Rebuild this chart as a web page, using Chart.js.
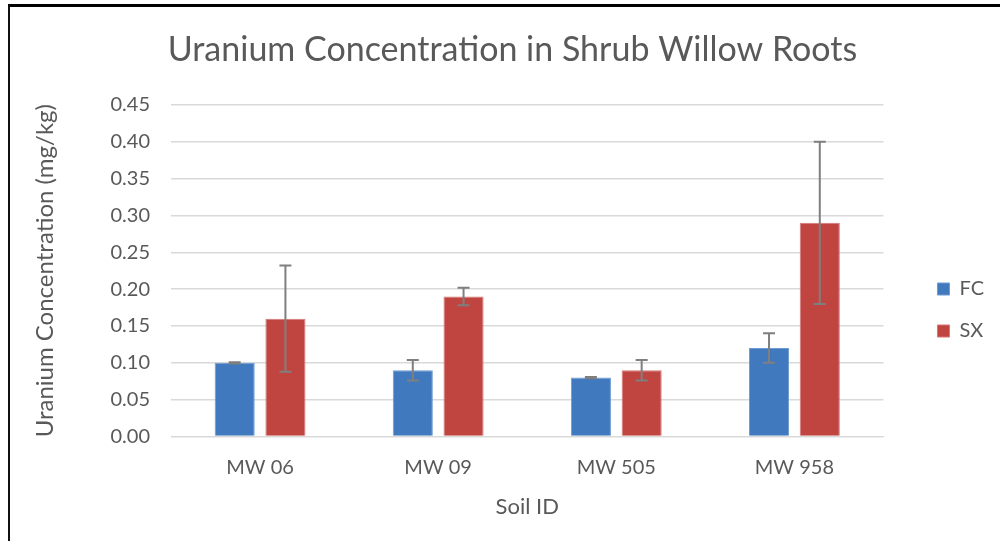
<!DOCTYPE html>
<html>
<head>
<meta charset="utf-8">
<script src="https://cdn.jsdelivr.net/npm/chart.js@4.4.1/dist/chart.umd.min.js"></script>
<style>
  html, body { margin: 0; padding: 0; background: #fff; }
  #wrap { position: relative; width: 1000px; height: 541px; }
  #frame {
    position: absolute; left: 8px; top: 4px; right: 0; bottom: 0;
    border-top: 3px solid #000; border-left: 2px solid #111;
    pointer-events: none;
  }
</style>
</head>
<body>
<div id="wrap">
  <canvas id="myChart" width="1000" height="541"></canvas>
  <div id="frame"></div>
</div>
<script>
// Soil IDs
const soils = ["MW 06", "MW 09", "MW 505", "MW 958"];

// Means (mg/kg)
const fcValues = [0.10, 0.09, 0.08, 0.12];
const sxValues = [0.16, 0.19, 0.09, 0.29];

// Error bar half-lengths
const fcErrors = [0.001, 0.014, 0.001, 0.02];
const sxErrors = [0.072, 0.012, 0.014, 0.11];

const yTicks = [0, 0.05, 0.10, 0.15, 0.20, 0.25, 0.30, 0.35, 0.40, 0.45];

const FONT = "Lato, 'Open Sans', sans-serif";
const GREY = "#595959";

// Error bars drawn from each bar's value
const errorBars = {
    id: "errorBars",
    afterDatasetsDraw(chart) {
        const ctx = chart.ctx;
        const y = chart.scales.y;
        ctx.save();
        ctx.strokeStyle = "#7f7f7f";
        ctx.lineWidth = 2;
        chart.data.datasets.forEach((ds, di) => {
            const meta = chart.getDatasetMeta(di);
            meta.data.forEach((bar, i) => {
                const v = ds.data[i];
                const e = ds.errors[i];
                const top = y.getPixelForValue(v + e);
                const bot = y.getPixelForValue(v - e);
                const x = bar.x;
                ctx.beginPath();
                ctx.moveTo(x, top); ctx.lineTo(x, bot);
                ctx.moveTo(x - 6, top); ctx.lineTo(x + 6, top);
                ctx.moveTo(x - 6, bot); ctx.lineTo(x + 6, bot);
                ctx.stroke();
            });
        });
        ctx.restore();
    }
};

// Nudge legend and title to where Excel puts them
const nudge = {
    id: "nudge",
    afterLayout(chart) {
        chart.legend.left += 32;
        chart.legend.right += 32;
        chart.legend.top += 35;
        chart.legend.bottom += 35;
        chart.titleBlock.left += 16;
        chart.titleBlock.right += 16;
    }
};

const ctx = document.getElementById("myChart").getContext("2d");
const chart = new Chart(ctx, {
    type: "bar",
    data: {
        labels: soils,
        datasets: [
            {
                label: "FC",
                data: fcValues,
                errors: fcErrors,
                backgroundColor: "#4179be",
                borderColor: "#6d9bd2",
                borderWidth: 1
            },
            {
                label: "SX",
                data: sxValues,
                errors: sxErrors,
                backgroundColor: "#c04541",
                borderColor: "#d67775",
                borderWidth: 1
            }
        ]
    },
    options: {
        responsive: false,
        animation: false,
        layout: { padding: { left: 31, right: 38, top: 30, bottom: 21 } },
        datasets: {
            bar: { categoryPercentage: 0.57, barPercentage: 0.79 }
        },
        plugins: {
            title: {
                display: true,
                text: "Uranium Concentration in Shrub Willow Roots",
                color: GREY,
                font: { family: FONT, size: 34, weight: "normal" },
                padding: { top: 0, bottom: 34 }
            },
            legend: {
                position: "right",
                labels: {
                    color: GREY,
                    font: { family: FONT, size: 20 },
                    boxWidth: 12,
                    boxHeight: 12,
                    padding: 22
                }
            },
            tooltip: { enabled: false }
        },
        scales: {
            x: {
                grid: { display: false, drawTicks: false },
                border: { color: "#d9d9d9", width: 1 },
                ticks: { color: GREY, font: { family: FONT, size: 20 }, padding: 19 },
                title: {
                    display: true,
                    text: "Soil ID",
                    color: GREY,
                    font: { family: FONT, size: 22 },
                    padding: { top: -5, bottom: 0 }
                }
            },
            y: {
                min: 0,
                max: 0.45,
                afterBuildTicks: (axis) => {
                    axis.ticks = yTicks.map(v => ({ value: v }));
                },
                afterFit: (axis) => { axis.width = 140; },
                grid: { color: "#d9d9d9", lineWidth: 1.5, drawTicks: false },
                border: { display: false },
                ticks: {
                    color: GREY,
                    font: { family: FONT, size: 20 },
                    padding: 21,
                    callback: (v) => v.toFixed(2)
                },
                title: {
                    display: true,
                    text: "Uranium Concentration (mg/kg)",
                    color: GREY,
                    font: { family: FONT, size: 24 },
                    padding: { top: 0, bottom: 0 }
                }
            }
        }
    },
    plugins: [errorBars, nudge]
});
</script>
</body>
</html>
